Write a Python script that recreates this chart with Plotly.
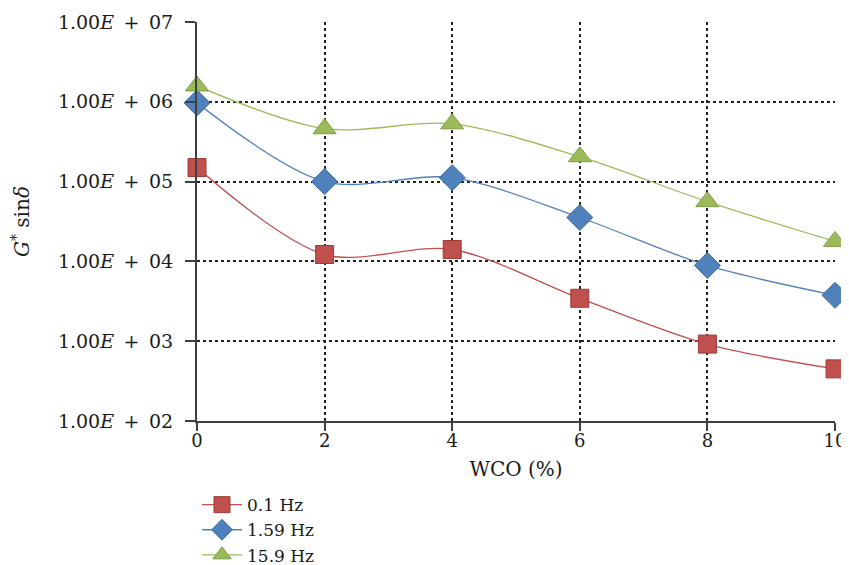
import plotly.graph_objects as go

wco = [0, 2, 4, 6, 8, 10]
hz_01 = [1.5e5, 1.22e4, 1.41e4, 3.45e3, 9.2e2, 4.5e2]
hz_159 = [9.7e5, 1.0e5, 1.12e5, 3.55e4, 8.9e3, 3.76e3]
hz_159b = [1.58e6, 4.6e5, 5.3e5, 2.05e5, 5.6e4, 1.78e4]
series_names = ["0.1 Hz", "1.59 Hz", "15.9 Hz"]
ytick_vals = [1e2, 1e3, 1e4, 1e5, 1e6, 1e7]
ytick_text = ["1.00<i>E</i>\u2002+\u200202", "1.00<i>E</i>\u2002+\u200203",
              "1.00<i>E</i>\u2002+\u200204", "1.00<i>E</i>\u2002+\u200205",
              "1.00<i>E</i>\u2002+\u200206", "1.00<i>E</i>\u2002+\u200207"]
xtick_vals = [0, 2, 4, 6, 8, 10]

FONT = "DejaVu Serif"
styles = [
    dict(color="#C0504D", line="#9E3A37", symbol="square", size=18),
    dict(color="#4F81BD", line="#3C6A9E", symbol="diamond", size=20),
    dict(color="#9BBB59", line="#7F9C44", symbol="triangle-up", size=20),
]

fig = go.Figure()
for name, ys, st in zip(series_names, [hz_01, hz_159, hz_159b], styles):
    fig.add_trace(go.Scatter(
        x=wco, y=ys, name=name, mode="lines+markers",
        line=dict(color=st["color"], width=1.3, shape="spline", smoothing=0.9),
        marker=dict(symbol=st["symbol"], size=st["size"], color=st["color"],
                    line=dict(color=st["line"], width=1)),
        cliponaxis=False,
    ))

fig.update_layout(
    width=849, height=565,
    margin=dict(l=189, r=22, t=14, b=152, autoexpand=False),
    paper_bgcolor="white", plot_bgcolor="white",
    font=dict(family=FONT, size=18, color="#1a1a1a"),
    showlegend=True,
    legend=dict(x=0.0, y=0.152, xanchor="left", yanchor="top", yref="container",
                font=dict(family=FONT, size=17, color="#1a1a1a"),
                tracegroupgap=0, itemwidth=40, bgcolor="rgba(0,0,0,0)"),
    xaxis=dict(range=[0, 10], tickvals=xtick_vals, showgrid=True,
               gridcolor="#222222", griddash="dot", gridwidth=1.5,
               showline=True, linecolor="#404040", linewidth=2,
               ticks="outside", ticklen=8, tickcolor="#404040", tickwidth=1.5,
               ticklabelstandoff=-6,
               zeroline=False, automargin=False,
               tickfont=dict(family=FONT, size=18),
               title=dict(text="WCO (%)", font=dict(family=FONT, size=20), standoff=12)),
    yaxis=dict(type="log", range=[2, 7], tickvals=ytick_vals, ticktext=ytick_text,
               showgrid=True, gridcolor="#222222", griddash="dot", gridwidth=1.5,
               showline=True, linecolor="#404040", linewidth=2,
               ticks="outside", ticklen=10, tickcolor="#404040", tickwidth=1.5,
               ticklabelstandoff=8,
               zeroline=False, automargin=False,
               tickfont=dict(family=FONT, size=19),
               title=dict(text="<i>G</i><sup>*</sup> sin<i>δ</i>",
                          font=dict(family=FONT, size=20), standoff=23)),
)

fig.write_html("out.html")
